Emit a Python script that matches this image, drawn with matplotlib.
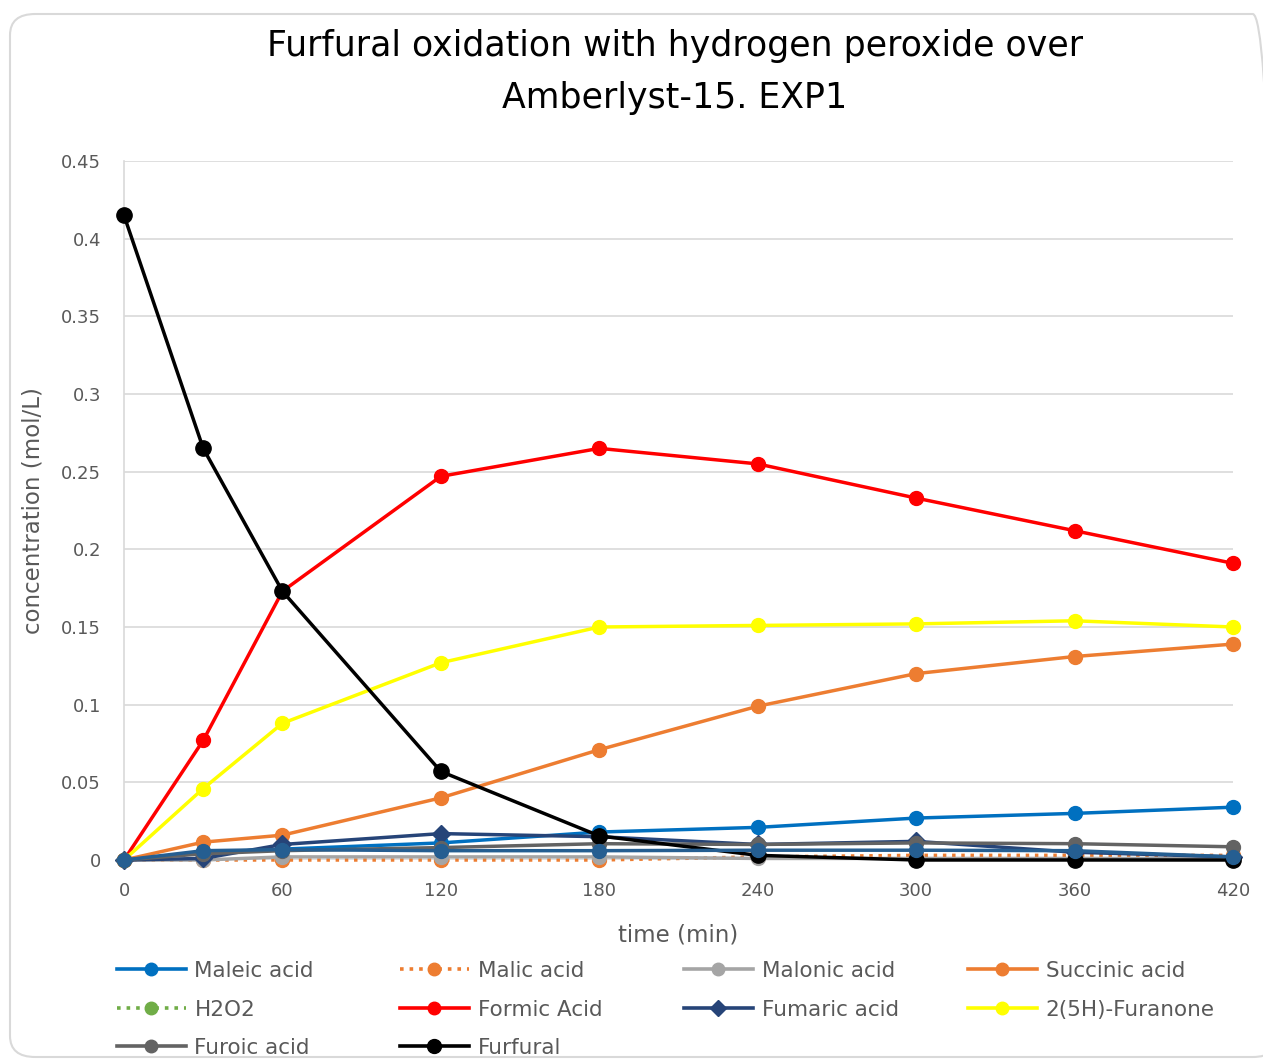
import numpy as np
import matplotlib.pyplot as plt
from matplotlib.patches import FancyBboxPatch
from matplotlib.lines import Line2D

########################################

# Data (concentration in mol/L)

time_min = [0, 30, 60, 120, 180, 240, 300, 360, 420]

maleic    = [0, 0.005, 0.007, 0.011, 0.018, 0.021, 0.027, 0.030, 0.034]
malic     = [0, 0.000, 0.000, 0.000, 0.000, 0.002, 0.003, 0.003, 0.003]
malonic   = [0, 0.000, 0.002, 0.002, 0.002, 0.001, 0.001, 0.001, 0.001]
succinic  = [0, 0.0115, 0.016, 0.040, 0.071, 0.099, 0.120, 0.131, 0.139]
h2o2      = [np.nan] * 9
formic    = [0, 0.077, 0.173, 0.247, 0.265, 0.255, 0.233, 0.212, 0.191]
fumaric   = [0, 0.001, 0.010, 0.017, 0.015, 0.010, 0.012, 0.005, 0.002]
furanone  = [0, 0.046, 0.088, 0.127, 0.150, 0.151, 0.152, 0.154, 0.150]
furoic    = [0, 0.004, 0.006, 0.008, 0.0105, 0.010, 0.011, 0.0105, 0.0085]
furfural  = [0.415, 0.265, 0.173, 0.057, 0.0155, 0.003, 0.0, 0.0, 0.0]
unlabeled = [0, 0.006, 0.0067, 0.006, 0.006, 0.0063, 0.0063, 0.006, 0.002]

# label, values, colour, linestyle, marker
series = [
    ("Maleic acid",    maleic,    "#0070C0", "-", "o"),
    ("Malic acid",     malic,     "#ED7D31", ":", "o"),
    ("Malonic acid",   malonic,   "#A5A5A5", "-", "o"),
    ("Succinic acid",  succinic,  "#ED7D31", "-", "o"),
    ("H2O2",           h2o2,      "#70AD47", ":", "o"),
    ("Formic Acid",    formic,    "#FF0000", "-", "o"),
    ("Fumaric acid",   fumaric,   "#264478", "-", "D"),
    ("2(5H)-Furanone", furanone,  "#FFFF00", "-", "o"),
    ("Furoic acid",    furoic,    "#636363", "-", "o"),
    ("Furfural",       furfural,  "#000000", "-", "o"),
    ("_nolegend_",     unlabeled, "#255E91", "-", "o"),
]

########################################

fig = plt.figure(figsize = (12.63, 10.59), dpi = 100)

# rounded chart border, right edge runs off the canvas
border = FancyBboxPatch((10 / 1263, 1 - 1057 / 1059), 1268 / 1263, 1043 / 1059,
                        boxstyle = "round,pad=0,rounding_size=0.02",
                        transform = fig.transFigure, facecolor = "none",
                        edgecolor = "#D9D9D9", linewidth = 1.5, clip_on = False, zorder = -1)
fig.patches.append(border)

ax = fig.add_axes([124 / 1263, 1 - 860 / 1059, (1233 - 124) / 1263, (860 - 161) / 1059])
ax.set_facecolor("none")

handles = {}
for label, values, colour, ls, marker in series:
    ms = 10 if marker == "o" else 9
    if label == "Furfural":
        ms = 11
    ax.plot(time_min, values, color = colour, linestyle = ls, linewidth = 2.5,
            marker = marker, markersize = ms, markerfacecolor = colour,
            markeredgecolor = colour, label = label, clip_on = False, zorder = 3)
    handles[label] = Line2D([], [], color = colour, linestyle = ls, linewidth = 2.6,
                            marker = marker, markersize = ms - 1, markerfacecolor = colour,
                            markeredgecolor = colour)

ax.set_xlim(0, 420)
ax.set_ylim(0, 0.45)
ax.set_xticks([0, 60, 120, 180, 240, 300, 360, 420])
ax.set_yticks(np.arange(0, 0.451, 0.05))
ax.set_yticklabels(["0", "0.05", "0.1", "0.15", "0.2", "0.25", "0.3", "0.35", "0.4", "0.45"])
ax.grid(axis = "y", color = "#D9D9D9", linewidth = 1.2, zorder = 0)
ax.set_axisbelow(True)
for side in ["top", "right", "bottom"]:
    ax.spines[side].set_visible(False)
ax.spines["left"].set_color("#D9D9D9")
ax.spines["left"].set_linewidth(1.2)
ax.tick_params(length = 0, labelsize = 13, labelcolor = "#595959")
ax.tick_params(axis = "y", pad = 16.5)
ax.tick_params(axis = "x", pad = 16)

ax.set_xlabel("time (min)", fontsize = 16.5, color = "#595959", labelpad = 17)
ax.set_ylabel("concentration (mol/L)", fontsize = 16.5, color = "#595959", labelpad = 12)

fig.text(675 / 1263, 1 - 46 / 1059, "Furfural oxidation with hydrogen peroxide over",
         ha = "center", va = "center", fontsize = 25)
fig.text(675 / 1263, 1 - 98 / 1059, "Amberlyst-15. EXP1", ha = "center", va = "center", fontsize = 25)

# legend laid out as four fixed-width columns
columns = [["Maleic acid", "H2O2", "Furoic acid"],
           ["Malic acid", "Formic Acid", "Furfural"],
           ["Malonic acid", "Fumaric acid"],
           ["Succinic acid", "2(5H)-Furanone"]]
col_x = [117, 400, 684, 968]
for x, names in zip(col_x, columns):
    leg = fig.legend([handles[n] for n in names], names, loc = "upper left",
                     bbox_to_anchor = (x / 1263, 1 - 961 / 1059), frameon = False,
                     fontsize = 15.5, handlelength = 3.2, handletextpad = 0.4,
                     labelspacing = 0.86, borderpad = 0, borderaxespad = 0)
    for t in leg.get_texts():
        t.set_color("#595959")

plt.savefig("out.png", dpi = 100)
plt.close()
